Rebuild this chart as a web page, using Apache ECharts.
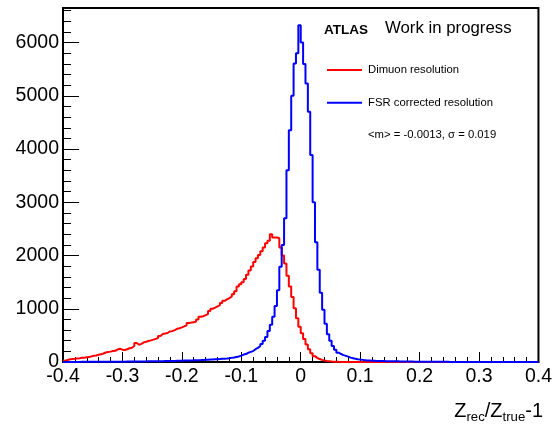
<!DOCTYPE html>
<html>
<head>
<meta charset="utf-8">
<script src="https://cdn.jsdelivr.net/npm/echarts@6/dist/echarts.min.js"></script>
<style>
html,body{margin:0;padding:0;background:#fff;}
#chart{width:555px;height:426px;}
</style>
</head>
<body>
<div id="chart"></div>
<script>
// Histogram binning (200 bins of width 0.004 from -0.4 to 0.4)
const xMin = -0.4;
const xMax = 0.4;
const binWidth = 0.004;

// Series names and texts
const seriesNames = ['Dimuon resolution', 'FSR corrected resolution'];
const statsText = '<m> = -0.0013, \u03c3 = 0.019';
const atlasLabel = 'ATLAS';
const statusLabel = 'Work in progress';

// Dimuon resolution (red), counts per bin
const dimuon = [
  25, 38, 50, 58, 62, 68, 72, 78, 82, 88,
  92, 105, 118, 122, 135, 144, 160, 178, 187, 195,
  205, 210, 235, 250, 232, 225, 240, 258, 268, 300,
  356, 325, 340, 369, 380, 395, 406, 420, 435, 450,
  490, 525, 535, 545, 575, 580, 600, 624, 635, 650,
  668, 690, 731, 740, 745, 760, 800, 850, 860, 880,
  900, 960, 1000, 1020, 1043, 1070, 1110, 1150, 1175, 1200,
  1230, 1275, 1330, 1420, 1460, 1500, 1560, 1637, 1720, 1793,
  1880, 1950, 2010, 2080, 2150, 2230, 2280, 2400, 2337, 2340,
  2325, 2150, 2000, 1850, 1620, 1420, 1220, 1012, 820, 660,
  540, 430, 330, 240, 165, 110, 75, 55, 40, 28,
  20, 15, 10, 7, 5, 3, 2, 2, 1, 1,
  0, 0, 0, 0, 0, 0, 0, 0, 0, 0,
  0, 0, 0, 0, 0, 0, 0, 0, 0, 0,
  0, 0, 0, 0, 0, 0, 0, 0, 0, 0,
  0, 0, 0, 0, 0, 0, 0, 0, 0, 0,
  0, 0, 0, 0, 0, 0, 0, 0, 0, 0,
  0, 0, 0, 0, 0, 0, 0, 0, 0, 0,
  0, 0, 0, 0, 0, 0, 0, 0, 0, 0,
  0, 0, 0, 0, 0, 0, 0, 0, 0, 0
];

// FSR corrected resolution (blue), counts per bin
const fsrCorrected = [
  1, 1, 1, 2, 2, 2, 2, 3, 3, 3,
  3, 3, 4, 4, 4, 4, 5, 5, 5, 5,
  6, 6, 6, 7, 7, 7, 8, 8, 8, 9,
  9, 10, 10, 11, 11, 12, 12, 13, 14, 15,
  15, 16, 17, 18, 19, 20, 21, 22, 23, 25,
  26, 27, 28, 30, 31, 33, 35, 36, 38, 40,
  42, 45, 47, 50, 53, 56, 60, 63, 67, 72,
  78, 85, 95, 105, 120, 140, 150, 175, 190, 205,
  240, 265, 300, 340, 400, 470, 580, 700, 850, 1050,
  1350, 1790, 2200, 2700, 3600, 4354, 5000, 5606, 5800, 6325,
  6000, 5600, 5231, 4700, 3887, 3000, 2250, 1731, 1300, 980,
  720, 520, 400, 300, 230, 175, 150, 130, 115, 100,
  82, 72, 62, 52, 45, 40, 35, 30, 27, 24,
  22, 20, 19, 18, 17, 16, 15, 14, 13, 12,
  12, 11, 10, 10, 9, 8, 8, 7, 7, 6,
  6, 5, 5, 5, 4, 4, 4, 3, 3, 3,
  3, 3, 2, 2, 2, 2, 2, 2, 1, 1,
  1, 1, 1, 1, 1, 1, 1, 1, 1, 1,
  1, 1, 1, 1, 0, 1, 0, 0, 1, 0,
  0, 0, 1, 0, 0, 0, 0, 0, 0, 0
];

// Axis settings
const yMax = 6650;
const xTickStep = 0.1;
const yTickStep = 1000;

function histPoints(vals) {
  const pts = vals.map((v, i) => [+(xMin + i * binWidth).toFixed(4), v]);
  pts.push([xMax, vals[vals.length - 1]]);
  return pts;
}

const FONT = 'Liberation Sans';
const chart = echarts.init(document.getElementById('chart'));

const option = {
  animation: false,
  backgroundColor: '#fff',
  grid: {left: 63, right: 12, top: 8, bottom: 64, show: true, borderColor: '#000', borderWidth: 2, backgroundColor: 'transparent'},
  xAxis: [{
    type: 'value', min: xMin, max: xMax, interval: xTickStep,
    splitLine: {show: false},
    axisLine: {show: true, onZero: false, lineStyle: {color: '#000', width: 2}},
    axisTick: {show: true, inside: true, length: 10, lineStyle: {color: '#000', width: 1}},
    minorTick: {show: true, splitNumber: 5, length: 5, lineStyle: {color: '#000', width: 1}},
    axisLabel: {show: true, color: '#000', fontFamily: FONT, fontSize: 19.5, margin: 5,
      formatter: v => (Math.abs(v) < 1e-9 ? '0' : String(+v.toFixed(1)))}
  }],
  yAxis: [{
    type: 'value', min: 0, max: yMax, interval: yTickStep,
    splitLine: {show: false},
    axisLine: {show: true, onZero: false, lineStyle: {color: '#000', width: 2}},
    axisTick: {show: true, inside: true, length: 16, lineStyle: {color: '#000', width: 1}},
    minorTick: {show: true, splitNumber: 5, length: 8, lineStyle: {color: '#000', width: 1}},
    axisLabel: {show: true, color: '#000', fontFamily: FONT, fontSize: 19.5, margin: 4,
      formatter: v => (v % yTickStep === 0 ? String(v) : '')}
  }],
  legend: {
    show: true,
    orient: 'vertical',
    left: 327, top: 64,
    padding: 0,
    itemWidth: 35, itemHeight: 12, itemGap: 20.7,
    selectedMode: false,
    textStyle: {fontFamily: FONT, fontSize: 11.3, color: '#000', lineHeight: 12, padding: [0, 0, 0, 1]},
    data: seriesNames.map(n => ({name: n, icon: 'path://M0,5 L35,5 L35,7 L0,7 Z'}))
  },
  graphic: [
    {type: 'text', left: 324, top: 23, style: {text: atlasLabel, font: 'bold 13.5px "Liberation Sans"', fill: '#000'}},
    {type: 'text', left: 385, top: 20, style: {text: statusLabel, font: '16.8px "Liberation Sans"', fill: '#000'}},
    {type: 'text', left: 368, top: 129.5, style: {text: statsText, font: '11.3px "Liberation Sans"', fill: '#000'}},
    {type: 'text', right: 12, top: 401, style: {
      text: '{a|Z}{s|rec}{a|/Z}{s|true}{a|-1}',
      fill: '#000',
      rich: {
        a: {fontFamily: FONT, fontSize: 20, lineHeight: 20, verticalAlign: 'top', padding: [0, 0, 6, 0], fill: '#000'},
        s: {fontFamily: FONT, fontSize: 13.2, lineHeight: 13, verticalAlign: 'top', padding: [9.4, 0, 0, 0], fill: '#000'}
      }
    }}
  ],
  series: [
    {
      name: seriesNames[0], type: 'line', step: 'end', symbol: 'none',
      data: histPoints(dimuon),
      lineStyle: {color: '#ff0000', width: 2}, itemStyle: {color: '#ff0000'},
      z: 2
    },
    {
      name: seriesNames[1], type: 'line', step: 'end', symbol: 'none',
      data: histPoints(fsrCorrected),
      lineStyle: {color: '#0000ff', width: 2}, itemStyle: {color: '#0000ff'},
      z: 3
    }
  ]
};
chart.setOption(option);
</script>
</body>
</html>
